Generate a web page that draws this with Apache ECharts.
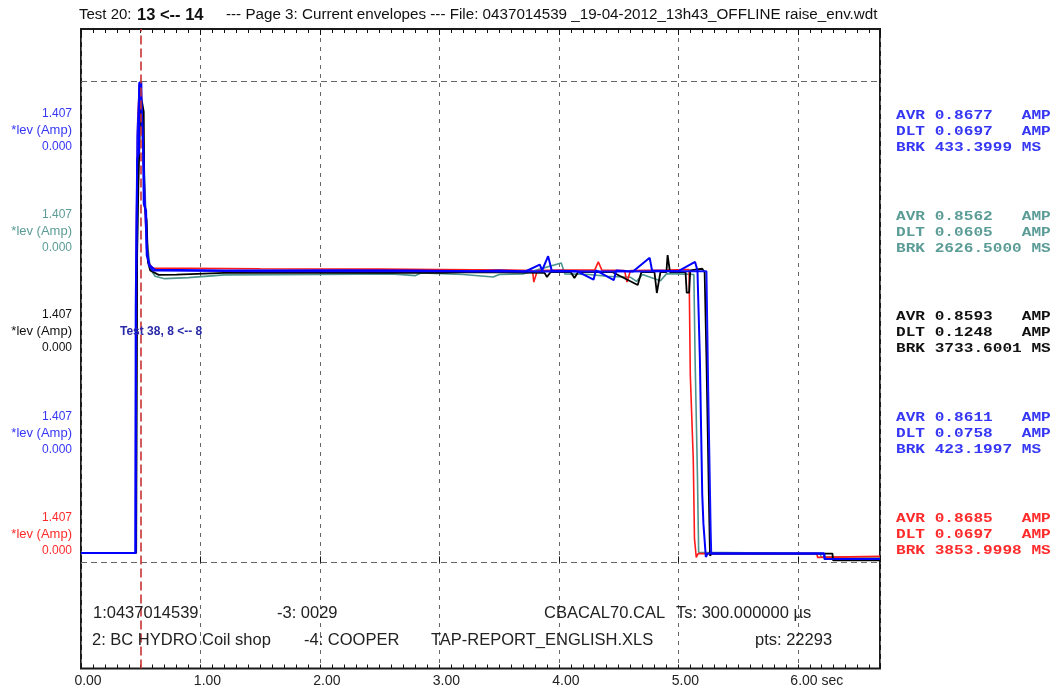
<!DOCTYPE html>
<html>
<head>
<meta charset="utf-8">
<script src="https://cdn.jsdelivr.net/npm/echarts@6/dist/echarts.min.js"></script>
<style>
html,body{margin:0;padding:0;background:#fff;}
#chart{width:1057px;height:692px;}
</style>
</head>
<body>
<div id="chart"></div>
<script>
// ---------------- data ----------------
const X_MAX = 6.6879;            // 22293 pts * 300 us
const Y_MIN = -0.3104, Y_MAX = 1.562;
const levelLines = [0, 1.407];   // full-scale dashed lines
const cursorTime = 0.50;         // red dashed cursor
const xTickLabels = ['0.00','1.00','2.00','3.00','4.00','5.00','6.00 sec'];

const chTeal = [[0,0.028],[0.46,0.028],[0.47,0.9],[0.48,1.25],[0.49,1.39],[0.51,1.35],[0.53,1.15],[0.55,0.95],[0.58,0.86],[0.62,0.838],[0.7,0.831],[0.9,0.834],[1.2,0.842],[2.0,0.843],[2.6,0.845],[2.8,0.840],[2.85,0.848],[3.2,0.843],[3.45,0.836],[3.5,0.843],[3.7,0.845],[4.02,0.877],[4.05,0.845],[4.25,0.843],[4.4,0.838],[4.6,0.835],[4.65,0.823],[4.7,0.843],[4.85,0.825],[4.9,0.845],[5.0,0.845],[5.13,0.843],[5.14,0.6],[5.16,0.25],[5.17,0.03],[5.18,0.026],[6.19,0.026],[6.195,0.016],[6.688,0.016]];
const chRed = [[0,0.028],[0.46,0.028],[0.465,1.0],[0.475,1.3],[0.49,1.40],[0.505,1.38],[0.52,1.2],[0.54,1.0],[0.56,0.88],[0.6,0.862],[1.5,0.86],[2.5,0.859],[3.0,0.858],[3.6,0.856],[3.78,0.855],[3.79,0.821],[3.82,0.855],[4.0,0.856],[4.3,0.856],[4.33,0.880],[4.36,0.856],[4.55,0.855],[4.57,0.821],[4.6,0.855],[4.9,0.856],[5.09,0.858],[5.10,0.55],[5.125,0.3],[5.135,0.07],[5.15,0.015],[5.165,0.026],[6.16,0.026],[6.165,0.015],[6.18,0.018],[6.688,0.018]];
const chBlack = [[0,0.028],[0.462,0.028],[0.47,0.9],[0.48,1.1],[0.495,1.30],[0.51,1.35],[0.525,1.32],[0.53,1.05],[0.55,1.0],[0.56,0.88],[0.58,0.855],[0.65,0.842],[0.8,0.843],[1.2,0.848],[2.5,0.849],[3.0,0.848],[3.3,0.85],[3.88,0.848],[3.9,0.836],[3.93,0.85],[4.1,0.85],[4.13,0.833],[4.16,0.85],[4.45,0.85],[4.66,0.8125],[4.69,0.85],[4.8,0.85],[4.82,0.789],[4.85,0.85],[4.90,0.85],[4.91,0.90],[4.93,0.85],[5.06,0.85],[5.07,0.79],[5.09,0.79],[5.1,0.855],[5.2,0.86],[5.22,0.85],[5.235,0.6],[5.255,0.2],[5.265,0.02],[5.28,0.026],[6.29,0.026],[6.295,0.006],[6.688,0.006]];
const chBlue2 = [[0,0.028],[0.457,0.028],[0.462,0.8],[0.472,1.25],[0.49,1.40],[0.50,1.38],[0.515,1.28],[0.53,1.1],[0.55,0.92],[0.57,0.87],[0.6,0.855],[1.5,0.853],[2.5,0.853],[3.0,0.853],[3.5,0.852],[4.0,0.853],[4.5,0.852],[5.0,0.853],[5.235,0.853],[5.25,0.5],[5.27,0.1],[5.275,0.026],[6.22,0.026],[6.225,0.010],[6.688,0.010]];
const chBlue1 = [[0,0.028],[0.455,0.028],[0.458,0.745],[0.468,0.745],[0.470,1.18],[0.485,1.20],[0.488,1.405],[0.505,1.405],[0.508,1.30],[0.52,1.22],[0.525,1.05],[0.545,1.03],[0.55,0.90],[0.575,0.87],[0.62,0.857],[1.2,0.855],[2.2,0.856],[2.8,0.855],[3.3,0.853],[3.5,0.855],[3.72,0.852],[3.84,0.872],[3.86,0.855],[3.91,0.897],[3.94,0.855],[4.15,0.853],[4.29,0.828],[4.31,0.855],[4.46,0.827],[4.48,0.855],[4.62,0.852],[4.76,0.892],[4.78,0.855],[5.0,0.853],[5.14,0.88],[5.16,0.855],[5.17,0.853],[5.18,0.6],[5.20,0.2],[5.21,0.113],[5.225,0.113],[5.23,0.016],[5.245,0.026],[6.22,0.026],[6.225,0.010],[6.688,0.010]];

const titleA = 'Test 20: ';
const titleB = '13 <-- 14';
const titleC = '--- Page 3: Current envelopes --- File: 0437014539 _19-04-2012_13h43_OFFLINE raise_env.wdt';
const levLabelTop = '1.407', levLabelMid = '*lev (Amp)', levLabelBot = '0.000';
const statsAVR = ['0.8677','0.8562','0.8593','0.8611','0.8685'];
const statsDLT = ['0.0697','0.0605','0.1248','0.0758','0.0697'];
const statsBRK = ['433.3999','2626.5000','3733.6001','423.1997','3853.9998'];
const infoLine1 = ['1:0437014539','-3: 0029','CBACAL70.CAL','Ts: 300.000000 µs'];
const infoLine2 = ['2: BC HYDRO Coil shop','-4: COOPER','TAP-REPORT_ENGLISH.XLS','pts: 22293'];
const overlayNote = 'Test 38, 8 <-- 8';

// ---------------- styles ----------------
const groupColors = ['#3636f5','#5c9c97','#111111','#3636f5','#ff2a2a'];
const groupY = [114, 215, 315, 417, 518];
const statY = [116, 217, 317, 418, 519];
const info1X = [93, 277, 544, 676];
const info2X = [92, 304, 431, 755];

function txt(x, y, text, o) {
  o = o || {};
  return {
    type: 'text', x: x, y: y, z: 100, silent: true,
    scaleX: o.scaleX || 1,
    style: {
      text: text,
      fill: o.color || '#111',
      fontSize: o.size || 12,
      fontFamily: o.family || 'Liberation Sans, Arial, sans-serif',
      fontWeight: o.weight || 'normal',
      align: o.align || 'left', textAlign: o.align || 'left',
      verticalAlign: 'middle', textVerticalAlign: 'middle',
      rich: o.rich
    }
  };
}

const graphics = [];
// title
graphics.push(txt(79, 15, '{a|' + titleA + '}{b|' + titleB + '}{c|' + titleC + '}', {
  size: 15,
  rich: {
    a: {fontSize: 15, width: 58, fill: '#111', fontFamily: 'Liberation Sans, Arial'},
    b: {fontSize: 16.5, fontWeight: 'bold', width: 89, fill: '#111', fontFamily: 'Liberation Sans, Arial'},
    c: {fontSize: 15.2, fill: '#111', fontFamily: 'Liberation Sans, Arial'}
  }
}));
// left level labels
for (let i = 0; i < 5; i++) {
  graphics.push(txt(72, groupY[i], levLabelTop, {align: 'right', size: 12, color: groupColors[i]}));
  graphics.push(txt(72, groupY[i] + 16.5, levLabelMid, {align: 'right', size: 13, color: groupColors[i]}));
  graphics.push(txt(72, groupY[i] + 32.5, levLabelBot, {align: 'right', size: 12, color: groupColors[i]}));
}
// right stats
for (let i = 0; i < 5; i++) {
  const mono = {size: 13, weight: 'bold', family: 'Liberation Mono, Courier New, monospace', color: groupColors[i], scaleX: 1.24};
  graphics.push(txt(896, statY[i], 'AVR ' + statsAVR[i] + '   AMP', mono));
  graphics.push(txt(896, statY[i] + 16, 'DLT ' + statsDLT[i] + '   AMP', mono));
  graphics.push(txt(896, statY[i] + 32, 'BRK ' + statsBRK[i] + ' MS', mono));
}
// info lines inside plot
for (let i = 0; i < 4; i++) {
  graphics.push(txt(info1X[i], 613, infoLine1[i], {size: 16.5, color: '#222'}));
  graphics.push(txt(info2X[i], 640, infoLine2[i], {size: 16.5, color: '#222'}));
}
graphics.push(txt(120, 332, overlayNote, {size: 12, weight: 'bold', color: '#2a2aa8'}));

function tickAxis(position, interval, len) {
  return {
    type: 'value', min: 0, max: X_MAX, interval: interval, position: position,
    axisLine: {show: false},
    axisTick: {show: true, inside: true, length: len, lineStyle: {color: '#111', width: 1}},
    axisLabel: {show: false},
    splitLine: {show: false}
  };
}

const chart = echarts.init(document.getElementById('chart'), null, {renderer: 'canvas'});
const lineSeries = (name, data, color, width, extra) => Object.assign({
  name: name, type: 'line', data: data, xAxisIndex: 0, yAxisIndex: 0,
  showSymbol: false, symbol: 'none', animation: false, silent: true,
  lineStyle: {color: color, width: width}, itemStyle: {color: color}
}, extra || {});

chart.setOption({
  animation: false,
  backgroundColor: '#ffffff',
  grid: {left: 81, right: 177, top: 29, bottom: 23.5, show: true, borderColor: '#1a1a1a', borderWidth: 2, backgroundColor: 'transparent'},
  xAxis: [
    {
      type: 'value', min: 0, max: X_MAX, interval: 1, position: 'bottom',
      axisLine: {show: false},
      axisTick: {show: true, inside: true, length: 6, lineStyle: {color: '#111', width: 1}},
      axisLabel: {
        show: true, margin: 6, color: '#222', fontSize: 14, fontFamily: 'Liberation Sans, Arial',
        formatter: function (v) {
          const r = Math.round(v);
          if (Math.abs(v - r) > 1e-6 || r < 0 || r >= xTickLabels.length) return '';
          return r === xTickLabels.length - 1 ? '{s|' + xTickLabels[r] + '}' : '{n|' + xTickLabels[r] + '}';
        },
        rich: {
          n: {fontSize: 14, color: '#222', fontFamily: 'Liberation Sans, Arial', padding: [0, 0, 0, 14]},
          s: {fontSize: 14, color: '#222', fontFamily: 'Liberation Sans, Arial', padding: [0, 0, 0, 38]}
        }
      },
      splitLine: {show: true, lineStyle: {color: '#666', width: 1, type: [4, 5]}}
    },
    tickAxis('bottom', 0.1, 4),
    tickAxis('top', 0.1, 4),
    tickAxis('top', 1, 6)
  ],
  yAxis: {
    type: 'value', min: Y_MIN, max: Y_MAX,
    axisLine: {show: false}, axisTick: {show: false}, axisLabel: {show: false}, splitLine: {show: false}
  },
  graphic: graphics,
  series: [
    lineSeries('ch2', chTeal, '#4b958e', 1.6, {
      markLine: {
        silent: true, symbol: 'none', animation: false, label: {show: false},
        lineStyle: {color: '#666', width: 1, type: [6, 4]},
        data: levelLines.map(v => ({yAxis: v}))
      }
    }),
    lineSeries('ch5', chRed, '#ff1a1a', 1.6),
    lineSeries('ch3', chBlack, '#000000', 1.8),
    lineSeries('ch4', chBlue2, '#1010ff', 2),
    lineSeries('ch1', chBlue1, '#0000ff', 2, {
      markLine: {
        silent: true, symbol: 'none', animation: false, label: {show: false},
        lineStyle: {color: '#c83232', width: 1.6, type: [9, 4]},
        data: [{xAxis: cursorTime}]
      }
    })
  ]
});
</script>
</body>
</html>
